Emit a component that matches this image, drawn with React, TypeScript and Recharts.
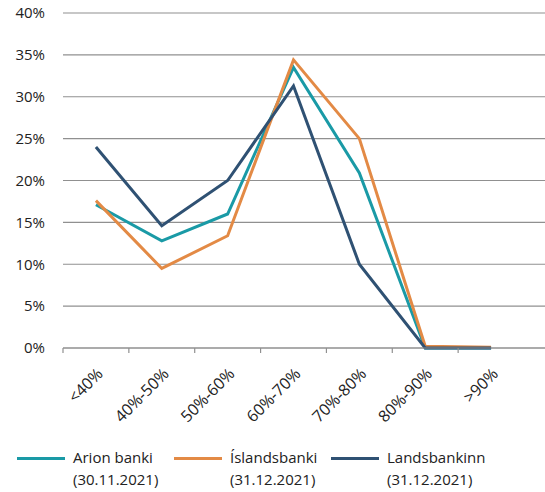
import { LineChart, Line, XAxis, YAxis, CartesianGrid } from "recharts"

const categories = ["<40%", "40%-50%", "50%-60%", "60%-70%", "70%-80%", "80%-90%", ">90%"]
const arion = [17.1, 12.8, 16.0, 33.5, 20.9, 0, 0]
const islandsbanki = [17.6, 9.5, 13.4, 34.4, 25.0, 0.2, 0.1]
const landsbankinn = [24.0, 14.6, 20.0, 31.3, 10.0, 0, 0]
const yTicks = [0, 5, 10, 15, 20, 25, 30, 35, 40]

const series = [
  { key: "arion", name: "Arion banki", date: "(30.11.2021)", color: "#1a9aa6" },
  { key: "islandsbanki", name: "Íslandsbanki", date: "(31.12.2021)", color: "#e38a45" },
  { key: "landsbankinn", name: "Landsbankinn", date: "(31.12.2021)", color: "#2f5173" },
]

const data = categories.map((c, i) => ({
  name: c,
  arion: arion[i],
  islandsbanki: islandsbanki[i],
  landsbankinn: landsbankinn[i],
}))

const font = "'Open Sans', sans-serif"
const BAND = 65.86

function XTick(props: any) {
  const { x, y, payload } = props
  return (
    <g>
      <line x1={x - BAND / 2} x2={x - BAND / 2} y1={y - 8} y2={y - 3} stroke="#909090" strokeWidth={1.2} />
      <text
        x={x + 8}
        y={y + 19}
        textAnchor="end"
        transform={`rotate(-45, ${x + 8}, ${y + 19})`}
        fontSize={16}
        fontFamily={font}
        fill="#222"
      >
        {payload.value}
      </text>
    </g>
  )
}

export default function App() {
  return (
    <div style={{ position: "absolute", left: 0, top: 0, width: 545, height: 492, background: "#fff" }}>
      <LineChart width={545} height={430} data={data} margin={{ top: 13, right: 0, left: 0, bottom: 0 }}>
        <CartesianGrid vertical={false} stroke="#909090" strokeWidth={1.2} />
        <XAxis
          dataKey="name"
          scale="band"
          height={82}
          padding={{ left: 0, right: 21 }}
          axisLine={{ stroke: "#909090", strokeWidth: 1.2 }}
          tickLine={false}
          tick={<XTick />}
          interval={0}
        />
        <YAxis
          width={63}
          domain={[0, 40]}
          ticks={yTicks}
          tickFormatter={(v) => `${v}%`}
          axisLine={false}
          tickLine={false}
          tick={{ fontSize: 15, fontFamily: font, fill: "#222" }}
          tickMargin={12}
        />
        {series.map((s) => (
          <Line
            key={s.key}
            dataKey={s.key}
            stroke={s.color}
            strokeWidth={3}
            dot={false}
            type="linear"
            isAnimationActive={false}
          />
        ))}
      </LineChart>
      <div style={{ position: "absolute", left: 0, top: 446, width: 545, fontFamily: font, fontSize: 15, color: "#222" }}>
        {series.map((s, i) => (
          <div key={s.key} style={{ position: "absolute", left: 17 + i * 157, top: 0, display: "flex" }}>
            <div style={{ width: 48, height: 3, background: s.color, marginTop: 11, marginRight: 8 }} />
            <div style={{ lineHeight: "22px" }}>
              <div>{s.name}</div>
              <div>{s.date}</div>
            </div>
          </div>
        ))}
      </div>
    </div>
  )
}
